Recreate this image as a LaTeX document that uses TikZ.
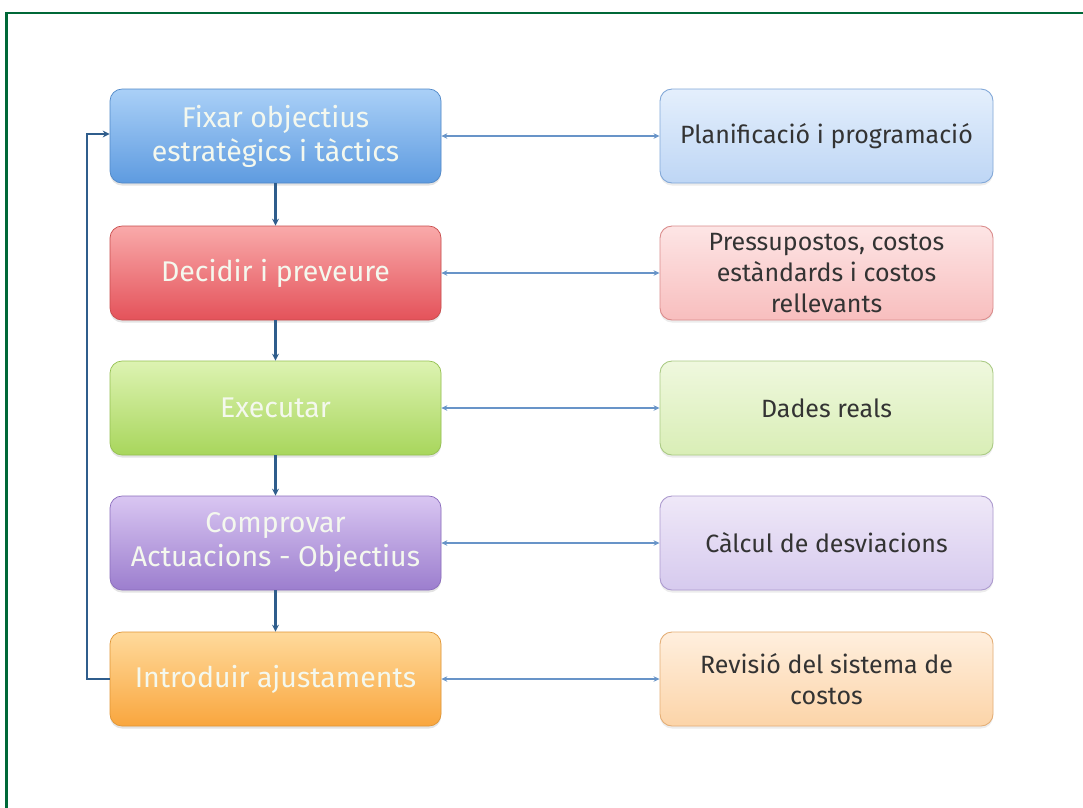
\documentclass[tikz,border=0pt]{standalone}
\usepackage{fontspec}
\setmainfont{Fira Sans}
\usetikzlibrary{shadows,arrows.meta}

\definecolor{frame}{HTML}{006838}
\definecolor{flow}{HTML}{2F5D8C}
\definecolor{link}{HTML}{6894C8}
\definecolor{txtdark}{HTML}{333333}
\definecolor{stagetext}{HTML}{F4F8EE}
% stage fills (top, bottom, border)
\definecolor{bT}{HTML}{AAD0F7}\definecolor{bB}{HTML}{5E9BE0}\definecolor{bD}{HTML}{5088C8}
\definecolor{rT}{HTML}{F9AAAA}\definecolor{rB}{HTML}{E4525A}\definecolor{rD}{HTML}{C84C4C}
\definecolor{gT}{HTML}{DDF3B2}\definecolor{gB}{HTML}{A8D65C}\definecolor{gD}{HTML}{94C050}
\definecolor{pT}{HTML}{D9C6F2}\definecolor{pB}{HTML}{9C7ECE}\definecolor{pD}{HTML}{8A6CBC}
\definecolor{oT}{HTML}{FFDA9C}\definecolor{oB}{HTML}{F9A63E}\definecolor{oD}{HTML}{E09534}
% information fills (top, bottom, border)
\definecolor{biT}{HTML}{E4EFFC}\definecolor{biB}{HTML}{BED6F5}\definecolor{biD}{HTML}{82A8D8}
\definecolor{riT}{HTML}{FDE5E5}\definecolor{riB}{HTML}{F8BEBE}\definecolor{riD}{HTML}{DA8C8C}
\definecolor{giT}{HTML}{EFF8DE}\definecolor{giB}{HTML}{D9EEB6}\definecolor{giD}{HTML}{AACA84}
\definecolor{piT}{HTML}{EFE8F8}\definecolor{piB}{HTML}{D6CAEE}\definecolor{piD}{HTML}{AC9ACE}
\definecolor{oiT}{HTML}{FFEFDE}\definecolor{oiB}{HTML}{FCD4A8}\definecolor{oiD}{HTML}{E4AE76}

\tikzset{
  stage/.style={rounded corners=12pt, minimum width=331pt, minimum height=94pt,
    align=center, font=\fontsize{28.5}{34}\selectfont, text=stagetext, line width=0.7pt,
    drop shadow={opacity=0.22, shadow xshift=0pt, shadow yshift=-2.5pt}},
  info/.style={rounded corners=12pt, minimum width=333pt, minimum height=94pt,
    align=center, font=\fontsize{25}{31}\selectfont, text=txtdark, line width=0.9pt,
    drop shadow={opacity=0.15, shadow xshift=0pt, shadow yshift=-2.5pt}},
  flowarrow/.style={draw=flow, line width=2.2pt, -{Stealth[length=7pt,width=7pt]}},
  linkarrow/.style={draw=link, line width=1.4pt, {Stealth[length=6pt,width=5.5pt]}-{Stealth[length=6pt,width=5.5pt]}},
}

\begin{document}
\begin{tikzpicture}[x=1pt,y=-1pt]
  \useasboundingbox (0,0) rectangle (1083,807);
  \fill[white] (0,0) rectangle (1083,807);
  % outer frame
  \draw[frame, line width=2.2pt] (6.5,812) -- (6.5,13) -- (1090,13);

  % stages of the control cycle
  \node[stage, draw=bD, top color=bT, bottom color=bB]
    (s1) at (275.5,136) {Fixar objectius\\estratègics i tàctics};
  \node[stage, draw=rD, top color=rT, bottom color=rB]
    (s2) at (275.5,273) {Decidir i preveure};
  \node[stage, draw=gD, top color=gT, bottom color=gB]
    (s3) at (275.5,408) {Executar};
  \node[stage, draw=pD, top color=pT, bottom color=pB]
    (s4) at (275.5,543) {Comprovar\\Actuacions - Objectius};
  \node[stage, draw=oD, top color=oT, bottom color=oB]
    (s5) at (275.5,679) {Introduir ajustaments};

  % information produced at each stage
  \node[info, draw=biD, top color=biT, bottom color=biB]
    (i1) at (826.5,136) {Planificació i programació};
  \node[info, draw=riD, top color=riT, bottom color=riB]
    (i2) at (826.5,273) {Pressupostos, costos\\estàndards i costos\\rellevants};
  \node[info, draw=giD, top color=giT, bottom color=giB]
    (i3) at (826.5,408) {Dades reals};
  \node[info, draw=piD, top color=piT, bottom color=piB]
    (i4) at (826.5,543) {Càlcul de desviacions};
  \node[info, draw=oiD, top color=oiT, bottom color=oiB]
    (i5) at (826.5,679) {Revisió del sistema de\\costos};

  % sequence
  \draw[flowarrow] (s1) -- (s2);
  \draw[flowarrow] (s2) -- (s3);
  \draw[flowarrow] (s3) -- (s4);
  \draw[flowarrow] (s4) -- (s5);
  % feedback loop
  \coordinate (lb) at (87,679);
  \coordinate (lt) at (87,134);
  \draw[flowarrow] (s5.west) -- (lb) -- (lt) -- (s1.west |- lt);

  % links between stages and information
  \foreach \k in {1,...,5}
    \draw[linkarrow] (s\k) -- (i\k);
\end{tikzpicture}
\end{document}
